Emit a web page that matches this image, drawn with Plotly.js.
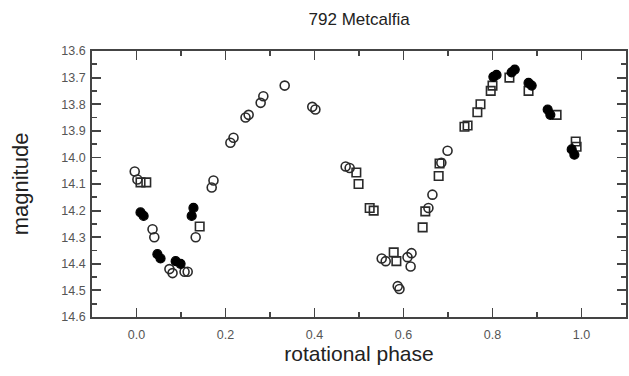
<!DOCTYPE html>
<html>
<head>
<meta charset="utf-8">
<script src="https://cdn.plot.ly/plotly-3.0.1.min.js"></script>
<style>html,body{margin:0;padding:0;background:#fff;}#chart{width:629px;height:376px;}</style>
</head>
<body>
<div id="chart"></div>
<script>
// Open circles
const circPhase = [-0.004, 0.002, 0.036, 0.040, 0.074, 0.081, 0.108, 0.115, 0.133, 0.173, 0.169, 0.211, 0.218, 0.245, 0.252, 0.279, 0.285, 0.333, 0.395, 0.402, 0.470, 0.479, 0.551, 0.560, 0.609, 0.618, 0.616, 0.587, 0.591, 0.656, 0.665, 0.685, 0.699];
const circMag   = [14.053, 14.083, 14.27, 14.30, 14.42, 14.435, 14.43, 14.43, 14.30, 14.087, 14.113, 13.945, 13.926, 13.85, 13.84, 13.795, 13.77, 13.73, 13.81, 13.82, 14.034, 14.04, 14.38, 14.39, 14.375, 14.36, 14.41, 14.484, 14.495, 14.19, 14.14, 14.02, 13.975];
// Open squares
const sqPhase = [0.009, 0.022, 0.142, 0.494, 0.499, 0.524, 0.533, 0.578, 0.584, 0.643, 0.649, 0.679, 0.681, 0.737, 0.744, 0.766, 0.773, 0.796, 0.800, 0.838, 0.881, 0.944, 0.987, 0.989];
const sqMag   = [14.094, 14.094, 14.26, 14.057, 14.10, 14.19, 14.20, 14.357, 14.39, 14.263, 14.203, 14.07, 14.023, 13.885, 13.88, 13.83, 13.80, 13.75, 13.73, 13.70, 13.75, 13.84, 13.94, 13.96];
// Filled circles
const fillPhase = [0.009, 0.016, 0.047, 0.054, 0.088, 0.099, 0.128, 0.124, 0.802, 0.809, 0.843, 0.850, 0.881, 0.888, 0.924, 0.930, 0.978, 0.984];
const fillMag   = [14.207, 14.22, 14.364, 14.38, 14.39, 14.40, 14.19, 14.22, 13.697, 13.69, 13.68, 13.67, 13.72, 13.73, 13.82, 13.84, 13.97, 13.99];

const xTicks = [0, 0.2, 0.4, 0.6, 0.8, 1.0];
const yTicks = [13.6, 13.7, 13.8, 13.9, 14.0, 14.1, 14.2, 14.3, 14.4, 14.5, 14.6];

const ink = '#2a2a2a';
const traces = [
  {x: circPhase, y: circMag, mode: 'markers', type: 'scatter',
   marker: {symbol: 'circle-open', size: 9, color: ink, line: {width: 1.6, color: ink}}},
  {x: sqPhase, y: sqMag, mode: 'markers', type: 'scatter',
   marker: {symbol: 'square-open', size: 8.5, color: ink, line: {width: 1.6, color: ink}}},
  {x: fillPhase, y: fillMag, mode: 'markers', type: 'scatter',
   marker: {symbol: 'circle', size: 9, color: '#000', line: {width: 1.2, color: '#000'}}}
];

const font = 'Liberation Sans, Arial, sans-serif';
const axisCommon = {
  showgrid: false, zeroline: false, showline: true, linecolor: '#444', linewidth: 1.8,
  mirror: 'ticks', ticks: 'inside', ticklen: 9, tickwidth: 1.8, tickcolor: '#444',
  tickfont: {family: font, size: 12.5, color: '#555'},
  tickformat: '.1f'
};

const layout = {
  width: 629, height: 376,
  margin: {l: 92, r: 3, t: 51, b: 59},
  paper_bgcolor: '#fff', plot_bgcolor: '#fff',
  showlegend: false,
  title: {text: '792 Metcalfia', x: 0.571, xanchor: 'center', y: 0.95, yanchor: 'middle',
          font: {family: font, size: 17, color: '#222'}},
  xaxis: Object.assign({}, axisCommon, {
    range: [-0.1, 1.1], tickvals: xTicks, ticklabelstandoff: 5,
    minor: {dtick: 0.1, tick0: 0, ticks: 'inside', ticklen: 5, tickwidth: 1.8, tickcolor: '#444', showgrid: false},
    title: {text: 'rotational phase', standoff: 4,
            font: {family: font, size: 21, color: '#222'}}
  }),
  yaxis: Object.assign({}, axisCommon, {
    range: [14.6, 13.6], tickvals: yTicks, ticklabelstandoff: 2,
    minor: {dtick: 0.05, tick0: 13.6, ticks: 'inside', ticklen: 5, tickwidth: 1.8, tickcolor: '#444', showgrid: false},
    title: {text: 'magnitude', standoff: 27,
            font: {family: font, size: 22, color: '#222'}}
  })
};

Plotly.newPlot('chart', traces, layout, {displayModeBar: false, staticPlot: true});
</script>
</body>
</html>
